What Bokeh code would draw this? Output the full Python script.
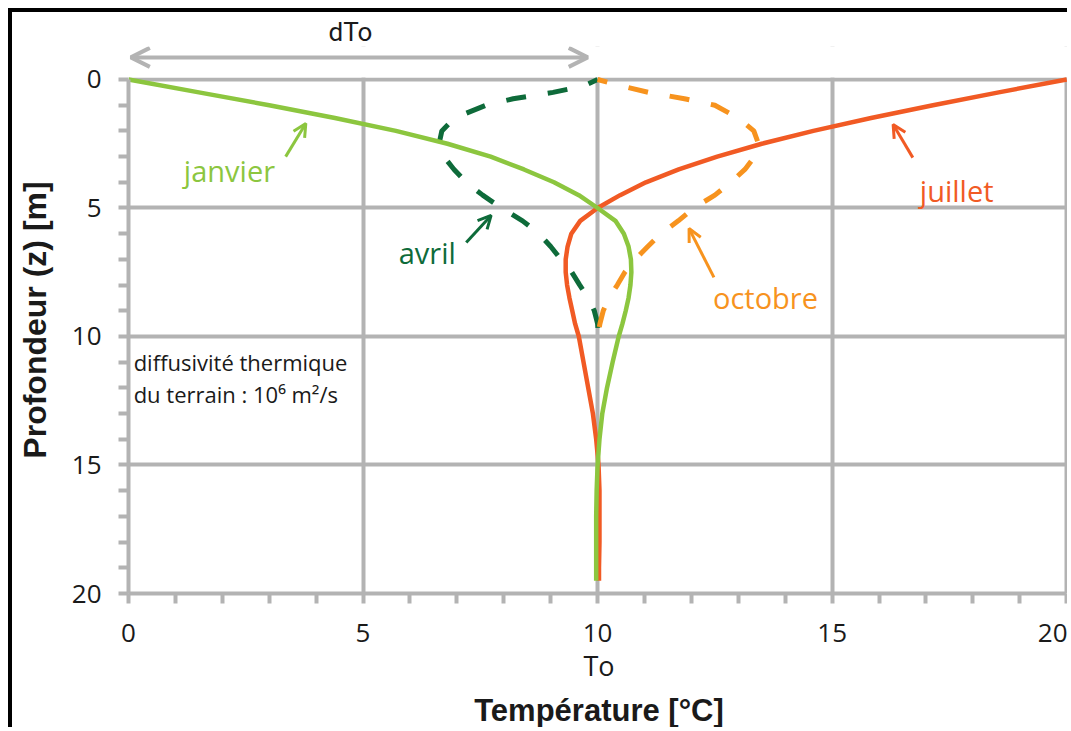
from bokeh.plotting import figure
from bokeh.models import (Range1d, FixedTicker, Label, Arrow, OpenHead, LinearAxis, Title,
                          BoxAnnotation)
from bokeh.embed import file_html
from bokeh.resources import INLINE

# ---------------- data ----------------
depth_solid = [0, 0.5, 1, 1.5, 2, 2.5, 3, 3.5, 4, 4.5, 5, 5.5, 6, 6.5, 7, 7.5, 8, 8.5, 9, 9.5,
               10, 11, 12, 13, 14, 15, 16, 17, 18, 19, 19.5]
janvier = [0.0, 1.5, 3.0, 4.4, 5.7, 6.8, 7.72, 8.43, 9.07, 9.6, 10.0, 10.38, 10.56, 10.66, 10.71,
           10.72, 10.7, 10.66, 10.6, 10.53, 10.45, 10.32, 10.2, 10.1, 10.04, 10.0, 9.98, 9.97,
           9.97, 9.97, 9.97]
juillet = [20.0, 18.55, 17.15, 15.83, 14.6, 13.5, 12.55, 11.73, 11.03, 10.48, 10.0, 9.63, 9.44,
           9.36, 9.32, 9.32, 9.35, 9.4, 9.46, 9.52, 9.6, 9.7, 9.8, 9.9, 9.97, 10.02, 10.04, 10.04,
           10.04, 10.03, 10.03]

depth_dashed = [0, 0.25, 0.5, 0.75, 1, 1.5, 2, 2.5, 3, 3.5, 4, 4.5, 5, 5.5, 6, 6.5, 7, 7.5, 8,
                8.5, 9, 9.5, 10]
avril = [10.0, 9.7, 9.05, 8.2, 7.62, 6.95, 6.68, 6.62, 6.72, 6.94, 7.2, 7.55, 7.95, 8.4, 8.75,
         9.0, 9.22, 9.45, 9.62, 9.8, 9.93, 10.0, 10.02]
octobre = [10.0, 10.5, 11.08, 11.85, 12.5, 13.0, 13.33, 13.43, 13.35, 13.14, 12.84, 12.5, 12.05,
           11.72, 11.35, 11.07, 10.8, 10.58, 10.42, 10.24, 10.12, 10.05, 10.0]

major_ticks = [0, 5, 10, 15, 20]
minor_ticks = [1, 2, 3, 4, 6, 7, 8, 9, 11, 12, 13, 14, 16, 17, 18, 19]
x_grid_ticks = [5, 10, 15, 20]
y_grid_ticks = [0, 5, 10, 15]
axis_bounds = (0, 20)

GREY = "#b3b3b3"
C_JAN = "#8cc63f"
C_JUL = "#f15a24"
C_AVR = "#0e6b3a"
C_OCT = "#f7931e"
TXT = "#1a1a1a"
FONT = "Open Sans"
BOLD_FONT = "Liberation Sans"

p = figure(width=1059, height=719, x_range=Range1d(0, 20.06), y_range=Range1d(20, -1.284),
           output_backend="svg", toolbar_location=None,
           min_border_left=116, min_border_right=2, min_border_top=34, min_border_bottom=138,
           styles={"margin-left": "8px", "margin-top": "8px",
                   "border-left": "4px solid black", "border-top": "4px solid black"})

p.background_fill_color = "white"
p.border_fill_color = "white"
p.outline_line_color = None

# "dTo" above the amplitude arrow
p.add_layout(Title(text="dTo", align="left", offset=200, standoff=0, text_font="Roboto",
                   text_font_size="26px", text_font_style="normal", text_color=TXT), "above")

for axis in (p.xaxis[0], p.yaxis[0]):
    axis.ticker = FixedTicker(ticks=major_ticks, minor_ticks=minor_ticks)
    axis.bounds = axis_bounds
    axis.axis_line_color = GREY
    axis.axis_line_width = 4
    axis.major_tick_line_color = GREY
    axis.minor_tick_line_color = GREY
    axis.major_tick_line_width = 4
    axis.minor_tick_line_width = 4
    axis.major_tick_in = 0
    axis.major_tick_out = 10
    axis.minor_tick_in = 0
    axis.minor_tick_out = 10
    axis.major_label_text_font = FONT
    axis.major_label_text_font_size = "26px"
    axis.major_label_text_color = TXT

p.xaxis.major_label_standoff = 20
p.xaxis.axis_label = "To"
p.xaxis.axis_label_text_font = FONT
p.xaxis.axis_label_text_font_style = "normal"
p.xaxis.axis_label_text_font_size = "27px"
p.xaxis.axis_label_text_color = TXT
p.xaxis.axis_label_standoff = 2

p.yaxis.major_label_standoff = 17
p.yaxis.axis_label = "Profondeur (z) [m]"
p.yaxis.axis_label_text_font = BOLD_FONT
p.yaxis.axis_label_text_font_style = "bold"
p.yaxis.axis_label_text_font_size = "32px"
p.yaxis.axis_label_text_color = TXT
p.yaxis.axis_label_standoff = 16

title_axis = LinearAxis(ticker=FixedTicker(ticks=[]), axis_label="Température [°C]",
                        axis_line_color=None, major_tick_out=0, major_tick_in=0,
                        minor_tick_out=0, minor_tick_in=0, major_label_standoff=0,
                        axis_label_standoff=6, axis_label_text_font=BOLD_FONT,
                        axis_label_text_font_style="bold", axis_label_text_font_size="31px",
                        axis_label_text_color=TXT)
p.add_layout(title_axis, "below")

p.xgrid[0].ticker = FixedTicker(ticks=x_grid_ticks)
p.ygrid[0].ticker = FixedTicker(ticks=y_grid_ticks)
for g in (p.xgrid[0], p.ygrid[0]):
    g.grid_line_color = GREY
    g.grid_line_width = 4

# keep the strip above depth 0 free of grid lines
p.add_layout(BoxAnnotation(bottom=-0.08, fill_color="white", fill_alpha=1.0,
                           line_alpha=0, level="underlay"))

# dTo amplitude arrow
p.add_layout(Arrow(x_start=0.05, y_start=-0.86, x_end=9.79, y_end=-0.86,
                   line_color=GREY, line_width=4,
                   start=OpenHead(size=19, line_color=GREY, line_width=4),
                   end=OpenHead(size=19, line_color=GREY, line_width=4)))

# dashed curves (avril, octobre)
p.line(avril, depth_dashed, line_color=C_AVR, line_width=5, line_dash="20 22",
       line_dash_offset=10)
p.line(octobre, depth_dashed, line_color=C_OCT, line_width=5, line_dash="20 22",
       line_dash_offset=10)
# solid curves (juillet, janvier)
p.line(juillet, depth_solid, line_color=C_JUL, line_width=4.5, line_join="round")
p.line(janvier, depth_solid, line_color=C_JAN, line_width=4.5, line_join="round")

# curve labels with small arrows
labels = [
    ("janvier", 1.18, 3.54, C_JAN, (3.35, 3.0, 3.78, 1.71)),
    ("avril", 5.76, 6.73, C_AVR, (7.2, 6.34, 7.73, 5.29)),
    ("octobre", 12.46, 8.48, C_OCT, (12.48, 7.7, 11.95, 5.8)),
    ("juillet", 16.87, 4.32, C_JUL, (16.72, 3.04, 16.3, 1.75)),
]
for text, lx, ly, col, (xs, ys, xe, ye) in labels:
    p.add_layout(Label(x=lx, y=ly, text=text, text_font=FONT, text_font_size="29px",
                       text_color=col, text_baseline="alphabetic"))
    p.add_layout(Arrow(x_start=xs, y_start=ys, x_end=xe, y_end=ye, line_color=col,
                       line_width=3,
                       end=OpenHead(size=13, line_color=col, line_width=3)))

p.add_layout(Label(x=0.11, y=11.01, text="diffusivité thermique", text_font=FONT,
                   text_font_size="22px", text_color=TXT, text_baseline="alphabetic"))
p.add_layout(Label(x=0.11, y=12.22, text="du terrain : 10⁶ m²/s", text_font=FONT,
                   text_font_size="22px", text_color=TXT, text_baseline="alphabetic"))

open("out.html", "w").write(file_html(p, INLINE))
